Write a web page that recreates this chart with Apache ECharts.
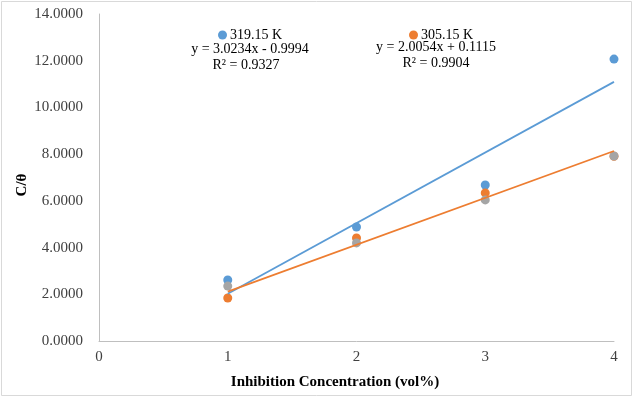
<!DOCTYPE html>
<html>
<head>
<meta charset="utf-8">
<script src="https://cdn.jsdelivr.net/npm/echarts@6/dist/echarts.min.js"></script>
<style>
  html, body { margin: 0; padding: 0; background: #fff; }
  #chart { width: 634px; height: 398px; }
</style>
</head>
<body>
<div id="chart"></div>
<script>
// data
const concentrations = [1, 2, 3, 4]
const hot = [2.61, 4.88, 6.68, 12.07]     // 319.15 K
const warm = [1.84, 4.41, 6.34, 7.91]     // 305.15 K
const third = [2.35, 4.20, 6.04, 7.92]    // grey series
const hotFit = [3.0234, -0.9994]          // slope, intercept
const warmFit = [2.0054, 0.1115]
const yTicks = [0, 2, 4, 6, 8, 10, 12, 14]

const font = '"Liberation Serif", "Times New Roman", serif'

const pairs = (ys) => concentrations.map((x, i) => [x, ys[i]])
const fitLine = (f) => [concentrations[0], concentrations[concentrations.length - 1]].map(x => [x, f[0] * x + f[1]])

const chart = echarts.init(document.getElementById('chart'))

const legendBase = {
  orient: 'horizontal',
  icon: 'circle',
  itemWidth: 9,
  itemHeight: 9,
  itemGap: 4,
  selectedMode: false,
  textStyle: { fontFamily: font, fontSize: 14, color: '#000', padding: [0, 0, 0, -2] }
}

const eqText = (text, x, y) => ({
  type: 'text', x: x, y: y,
  style: { text: text, fontFamily: font, fontSize: 14, fill: '#000', align: 'center', verticalAlign: 'middle' }
})

const option = {
  animation: false,
  backgroundColor: '#fff',
  grid: { left: 99, right: 20, top: 14, bottom: 57 },
  legend: [
    Object.assign({}, legendBase, { data: ['319.15 K'], left: 213, top: 23 }),
    Object.assign({}, legendBase, { data: ['305.15 K'], left: 404, top: 23 })
  ],
  xAxis: {
    type: 'value',
    min: 0,
    max: 4,
    interval: 1,
    axisLine: { show: true, lineStyle: { color: '#BFBFBF', width: 1 } },
    axisTick: { show: false },
    splitLine: { show: false },
    axisLabel: { fontFamily: font, fontSize: 15, color: '#404040', margin: 9 }
  },
  yAxis: {
    type: 'value',
    min: yTicks[0],
    max: yTicks[yTicks.length - 1],
    interval: 2,
    axisLine: { show: true, lineStyle: { color: '#BFBFBF', width: 1 } },
    axisTick: { show: false },
    splitLine: { show: false },
    axisLabel: {
      fontFamily: font, fontSize: 15, color: '#404040', margin: 16,
      formatter: v => v.toFixed(4)
    }
  },
  graphic: [
    { type: 'rect', shape: { x: 1.5, y: 1.5, width: 630, height: 394 }, style: { fill: 'none', stroke: '#D9D9D9', lineWidth: 1 } },
    eqText('y = 3.0234x - 0.9994', 250, 49),
    eqText('R² = 0.9327', 246, 65),
    eqText('y = 2.0054x + 0.1115', 436, 47),
    eqText('R² = 0.9904', 436, 63),
    { type: 'text', x: 335, y: 382, style: { text: 'Inhibition Concentration (vol%)', fontFamily: font, fontSize: 15, fontWeight: 'bold', fill: '#000', align: 'center', verticalAlign: 'middle' } },
    { type: 'text', x: 22, y: 185, rotation: Math.PI / 2, style: { text: 'C/θ', fontFamily: font, fontSize: 15, fontWeight: 'bold', fill: '#000', align: 'center', verticalAlign: 'middle' } }
  ],
  series: [
    { name: '319.15 K', type: 'scatter', data: pairs(hot), symbolSize: 9, itemStyle: { color: '#5B9BD5', opacity: 1 }, z: 2 },
    { name: '305.15 K', type: 'scatter', data: pairs(warm), symbolSize: 9, itemStyle: { color: '#ED7D31', opacity: 1 }, z: 3 },
    { name: 'Series3', type: 'scatter', data: pairs(third), symbolSize: 9, itemStyle: { color: '#A5A5A5', opacity: 1 }, z: 4 },
    { name: 'fit 319.15 K', type: 'line', data: fitLine(hotFit), showSymbol: false, lineStyle: { color: '#5B9BD5', width: 1.75 }, z: 5 },
    { name: 'fit 305.15 K', type: 'line', data: fitLine(warmFit), showSymbol: false, lineStyle: { color: '#ED7D31', width: 1.75 }, z: 5 }
  ]
}

chart.setOption(option)
</script>
</body>
</html>
